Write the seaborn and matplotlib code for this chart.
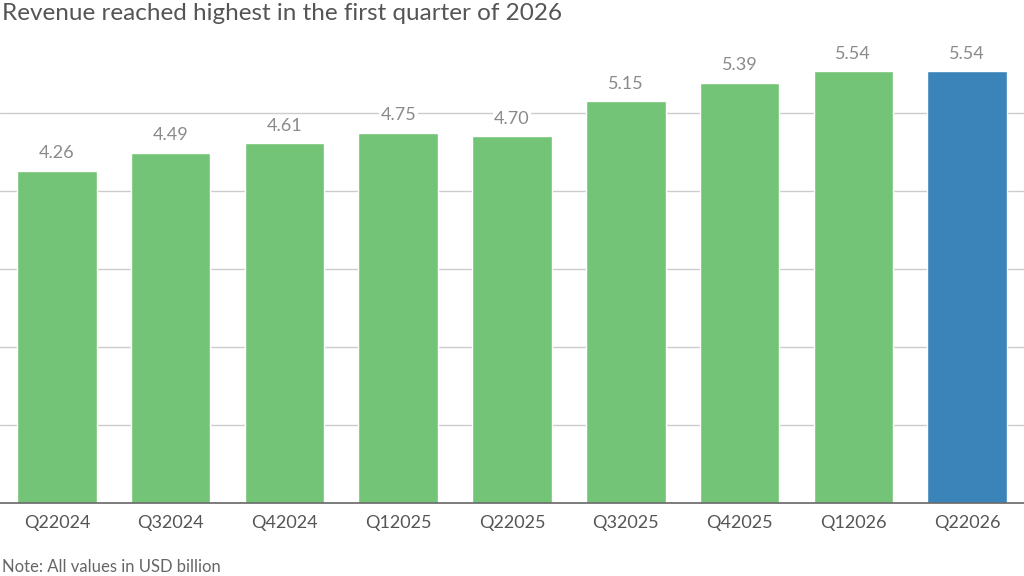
import matplotlib

matplotlib.use("Agg")
import matplotlib.pyplot as plt
import pandas as pd
import seaborn as sns

quarters = ["Q22024", "Q32024", "Q42024", "Q12025", "Q22025",
            "Q32025", "Q42025", "Q12026", "Q22026"]
revenue = [4.26, 4.49, 4.61, 4.75, 4.70, 5.15, 5.39, 5.54, 5.54]
highlight = [False, False, False, False, False, False, False, False, True]

GREEN = "#73c476"
BLUE = "#3a84b9"

df = pd.DataFrame({"quarter": quarters, "revenue": revenue,
                   "latest": ["yes" if h else "no" for h in highlight]})

sns.set_theme(style="white")
plt.rcParams["font.family"] = ["Lato", "DejaVu Sans"]

fig = plt.figure(figsize=(10.24, 5.76), dpi=100)
ax = fig.add_axes([0.0, 0.127, 1.0, 0.812])

sns.barplot(data=df, x="quarter", y="revenue", hue="latest",
            palette={"no": GREEN, "yes": BLUE}, width=0.70,
            dodge=False, legend=False, saturation=1, ax=ax, zorder=3)

ax.set_xlim(-0.5, len(quarters) - 0.5)
ax.set_ylim(0, 6)
ax.set_yticks([1, 2, 3, 4, 5])
ax.yaxis.grid(True, color="#cccccc", linewidth=1.0, zorder=0)
ax.set_yticklabels([])
ax.tick_params(axis="y", length=0)
ax.tick_params(axis="x", length=0, labelsize=13, colors="#555555", pad=9)
ax.set_xlabel("")
ax.set_ylabel("")
for side in ("top", "left", "right"):
    ax.spines[side].set_visible(False)
ax.spines["bottom"].set_color("#666666")
ax.spines["bottom"].set_linewidth(1.2)
ax.spines["bottom"].set_zorder(4)

for i, v in enumerate(revenue):
    ax.text(i, v + 0.12, f"{v:.2f}", ha="center", va="bottom",
            fontsize=13, color="#8a8a8a", zorder=5,
            bbox=dict(facecolor="white", edgecolor="none", pad=1.0))

fig.text(0.002, 0.995, "Revenue reached highest in the first quarter of 2026",
         ha="left", va="top", fontsize=17.5, color="#555555")
fig.text(0.002, 0.002, "Note: All values in USD billion",
         ha="left", va="bottom", fontsize=12, color="#666666")

fig.savefig("out.png", dpi=100)
